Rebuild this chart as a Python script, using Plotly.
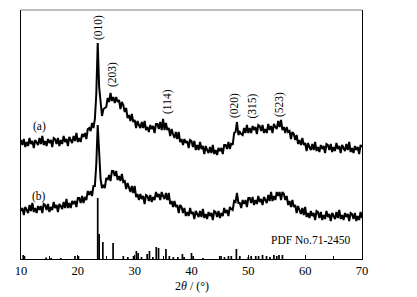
import plotly.graph_objects as go

# 2theta scan grid (degrees), 0.25 deg step
THETA = [
    10, 10.25, 10.5, 10.75, 11, 11.25, 11.5, 11.75, 12, 12.25, 12.5, 12.75,
    13, 13.25, 13.5, 13.75, 14, 14.25, 14.5, 14.75, 15, 15.25, 15.5, 15.75,
    16, 16.25, 16.5, 16.75, 17, 17.25, 17.5, 17.75, 18, 18.25, 18.5, 18.75,
    19, 19.25, 19.5, 19.75, 20, 20.25, 20.5, 20.75, 21, 21.25, 21.5, 21.75,
    22, 22.25, 22.5, 22.75, 23, 23.25, 23.5, 23.75, 24, 24.25, 24.5, 24.75,
    25, 25.25, 25.5, 25.75, 26, 26.25, 26.5, 26.75, 27, 27.25, 27.5, 27.75,
    28, 28.25, 28.5, 28.75, 29, 29.25, 29.5, 29.75, 30, 30.25, 30.5, 30.75,
    31, 31.25, 31.5, 31.75, 32, 32.25, 32.5, 32.75, 33, 33.25, 33.5, 33.75,
    34, 34.25, 34.5, 34.75, 35, 35.25, 35.5, 35.75, 36, 36.25, 36.5, 36.75,
    37, 37.25, 37.5, 37.75, 38, 38.25, 38.5, 38.75, 39, 39.25, 39.5, 39.75,
    40, 40.25, 40.5, 40.75, 41, 41.25, 41.5, 41.75, 42, 42.25, 42.5, 42.75,
    43, 43.25, 43.5, 43.75, 44, 44.25, 44.5, 44.75, 45, 45.25, 45.5, 45.75,
    46, 46.25, 46.5, 46.75, 47, 47.25, 47.5, 47.75, 48, 48.25, 48.5, 48.75,
    49, 49.25, 49.5, 49.75, 50, 50.25, 50.5, 50.75, 51, 51.25, 51.5, 51.75,
    52, 52.25, 52.5, 52.75, 53, 53.25, 53.5, 53.75, 54, 54.25, 54.5, 54.75,
    55, 55.25, 55.5, 55.75, 56, 56.25, 56.5, 56.75, 57, 57.25, 57.5, 57.75,
    58, 58.25, 58.5, 58.75, 59, 59.25, 59.5, 59.75, 60, 60.25, 60.5, 60.75,
    61, 61.25, 61.5, 61.75, 62, 62.25, 62.5, 62.75, 63, 63.25, 63.5, 63.75,
    64, 64.25, 64.5, 64.75, 65, 65.25, 65.5, 65.75, 66, 66.25, 66.5, 66.75,
    67, 67.25, 67.5, 67.75, 68, 68.25, 68.5, 68.75, 69, 69.25, 69.5, 69.75,
    70]

# pattern (a) intensity (a.u.)
INT_A = [
    119, 114, 120, 112, 117, 113, 121, 115, 118, 111, 119, 116,
    114, 121, 115, 123, 114, 118, 113, 120, 116, 119, 112, 121,
    120, 115, 121, 113, 119, 115, 123, 117, 120, 113, 122, 119,
    116, 123, 118, 126, 117, 121, 117, 125, 122, 126, 120, 130,
    131, 128, 136, 131, 140, 165, 216, 172, 154, 143, 150, 151,
    152, 161, 157, 166, 158, 162, 156, 162, 157, 159, 150, 157,
    154, 147, 151, 141, 144, 138, 145, 137, 139, 131, 138, 134,
    131, 137, 131, 138, 129, 132, 127, 134, 130, 133, 126, 135,
    135, 130, 137, 129, 140, 129, 136, 129, 131, 123, 130, 125,
    121, 127, 120, 127, 117, 120, 114, 120, 116, 118, 111, 119,
    118, 112, 118, 109, 114, 109, 117, 110, 113, 105, 113, 109,
    106, 112, 106, 114, 105, 109, 104, 111, 108, 111, 105, 114,
    114, 110, 117, 110, 116, 114, 126, 127, 137, 124, 127, 125,
    124, 131, 126, 134, 126, 131, 126, 133, 129, 132, 125, 134,
    133, 128, 134, 126, 130, 126, 135, 129, 133, 126, 135, 132,
    130, 138, 132, 139, 129, 132, 126, 132, 127, 128, 120, 127,
    125, 119, 124, 115, 119, 114, 121, 114, 116, 108, 116, 112,
    109, 115, 109, 117, 108, 112, 107, 114, 110, 113, 106, 115,
    114, 109, 115, 107, 112, 108, 116, 110, 113, 106, 114, 111,
    108, 115, 109, 117, 107, 111, 106, 113, 109, 112, 105, 114,
    112]

# pattern (b) intensity (a.u.)
INT_B = [
    48, 51, 44, 52, 49, 46, 54, 48, 56, 47, 51, 46,
    53, 49, 53, 46, 55, 54, 49, 55, 47, 52, 49, 57,
    51, 54, 47, 55, 53, 50, 57, 51, 60, 51, 56, 51,
    58, 55, 58, 52, 61, 61, 56, 63, 56, 62, 59, 68,
    64, 68, 63, 73, 73, 95, 134, 100, 80, 71, 74, 71,
    81, 79, 84, 78, 88, 88, 83, 88, 79, 83, 78, 85,
    77, 78, 70, 76, 72, 67, 73, 66, 73, 62, 65, 59,
    65, 60, 63, 55, 64, 63, 58, 64, 57, 62, 59, 67,
    62, 65, 59, 67, 63, 60, 66, 59, 66, 55, 58, 52,
    58, 52, 54, 46, 54, 52, 46, 51, 43, 47, 43, 51,
    45, 47, 40, 48, 45, 42, 48, 42, 50, 41, 45, 40,
    47, 43, 46, 39, 48, 47, 42, 48, 41, 46, 43, 51,
    46, 49, 43, 52, 50, 49, 58, 57, 66, 56, 56, 51,
    59, 55, 59, 52, 61, 61, 56, 62, 54, 59, 55, 63,
    57, 60, 54, 62, 59, 56, 64, 58, 67, 58, 63, 59,
    67, 63, 67, 59, 67, 65, 59, 63, 54, 58, 52, 59,
    52, 54, 46, 53, 49, 45, 51, 44, 52, 42, 46, 41,
    48, 43, 46, 39, 48, 47, 41, 47, 39, 44, 40, 48,
    42, 45, 38, 46, 43, 40, 47, 41, 49, 40, 44, 39,
    46, 42, 45, 38, 46, 45, 40, 46, 38, 43, 39, 47,
    41]

# PDF No.71-2450 reference lines
PDF_POS = [10.4, 10.6, 14.4, 15.3, 17.0, 19.5, 20.1, 23.5, 23.75, 24.4, 26.2, 28.0, 28.8,
           29.8, 30.3, 30.6, 31.2, 32.2, 32.6, 33.2, 33.8, 34.2, 35.5, 36.1, 36.8, 37.6,
           38.4, 38.7, 40.0, 40.3, 42.0, 45.2, 45.8, 46.5, 47.0, 47.9, 48.5, 50.0, 50.5,
           51.3, 51.8, 52.5, 53.2, 53.8, 54.5, 55.0, 55.4, 56.0]
PDF_INT = [4, 3, 1.5, 1, 1, 3, 3, 61, 25, 17, 16, 3, 2,
           3, 8, 6, 2, 5, 8, 2, 12, 11, 10, 3, 2, 2,
           5, 2, 6, 3, 1, 3, 2, 3, 3, 10, 3, 2, 3,
           3, 3, 4, 3, 2, 4, 3, 4, 4]

PEAK_LABELS = ["(010)", "(203)", "(114)", "(020)", "(315)", "(523)"]
PEAK_X = [23.64, 26.1, 35.78, 47.48, 50.73, 55.4]
PEAK_Y = [231.5, 184.5, 157.5, 153, 153, 154]

SAMPLE_LABELS = ["(a)", "(b)"]
SAMPLE_X = [13.17, 13.08]
SAMPLE_Y = [133, 63]

X_TICKS = [10, 20, 30, 40, 50, 60, 70]

FONT = "Liberation Serif, Times New Roman, serif"

fig = go.Figure()
for ys in (INT_A, INT_B):
    fig.add_trace(go.Scatter(x=THETA, y=ys, mode="lines",
                             line=dict(color="black", width=2.0), hoverinfo="skip"))

sx, sy = [], []
for p, h in zip(PDF_POS, PDF_INT):
    sx += [p, p, None]
    sy += [0, h, None]
fig.add_trace(go.Scatter(x=sx, y=sy, mode="lines",
                         line=dict(color="black", width=1.7), hoverinfo="skip"))

for t, x, y in zip(PEAK_LABELS, PEAK_X, PEAK_Y):
    fig.add_annotation(x=x, y=y, text=t, showarrow=False, textangle=-90,
                       font=dict(family=FONT, size=11.5, color="black"))
for t, x, y in zip(SAMPLE_LABELS, SAMPLE_X, SAMPLE_Y):
    fig.add_annotation(x=x, y=y, text=t, showarrow=False,
                       font=dict(family=FONT, size=11.5, color="black"))
fig.add_annotation(x=60.85, y=19, text="PDF No.71-2450", showarrow=False,
                   font=dict(family=FONT, size=11.5, color="black"))
fig.add_annotation(xref="paper", yref="paper", x=0.5, y=0, yshift=-27,
                   xanchor="center", yanchor="middle",
                   text="2<i>θ</i> / (°)", showarrow=False,
                   font=dict(family=FONT, size=12, color="black"))

fig.add_shape(type="line", xref="paper", yref="paper", x0=0, x1=1, y0=1, y1=1,
              line=dict(color="#808080", width=1.2))

fig.update_layout(
    width=417, height=297,
    margin=dict(l=21, r=55, t=10, b=38),
    paper_bgcolor="white", plot_bgcolor="white",
    showlegend=False,
    font=dict(family=FONT, color="black"),
    xaxis=dict(range=[10, 70], tickvals=X_TICKS, ticks="inside", ticklen=4,
               tickcolor="black", showline=True, linecolor="black", linewidth=1.2,
               showgrid=False, zeroline=False,
               tickfont=dict(family=FONT, size=12.5, color="black"),
               minor=dict(dtick=5, tick0=10, ticks="inside", ticklen=3, tickcolor="black")),
    yaxis=dict(range=[0, 249], showticklabels=False, ticks="", showline=True,
               linecolor="black", linewidth=1.2, mirror=True, showgrid=False,
               zeroline=False),
)

fig.write_html("out.html", config={"displayModeBar": False},
               post_script="document.body.style.margin='0';")
